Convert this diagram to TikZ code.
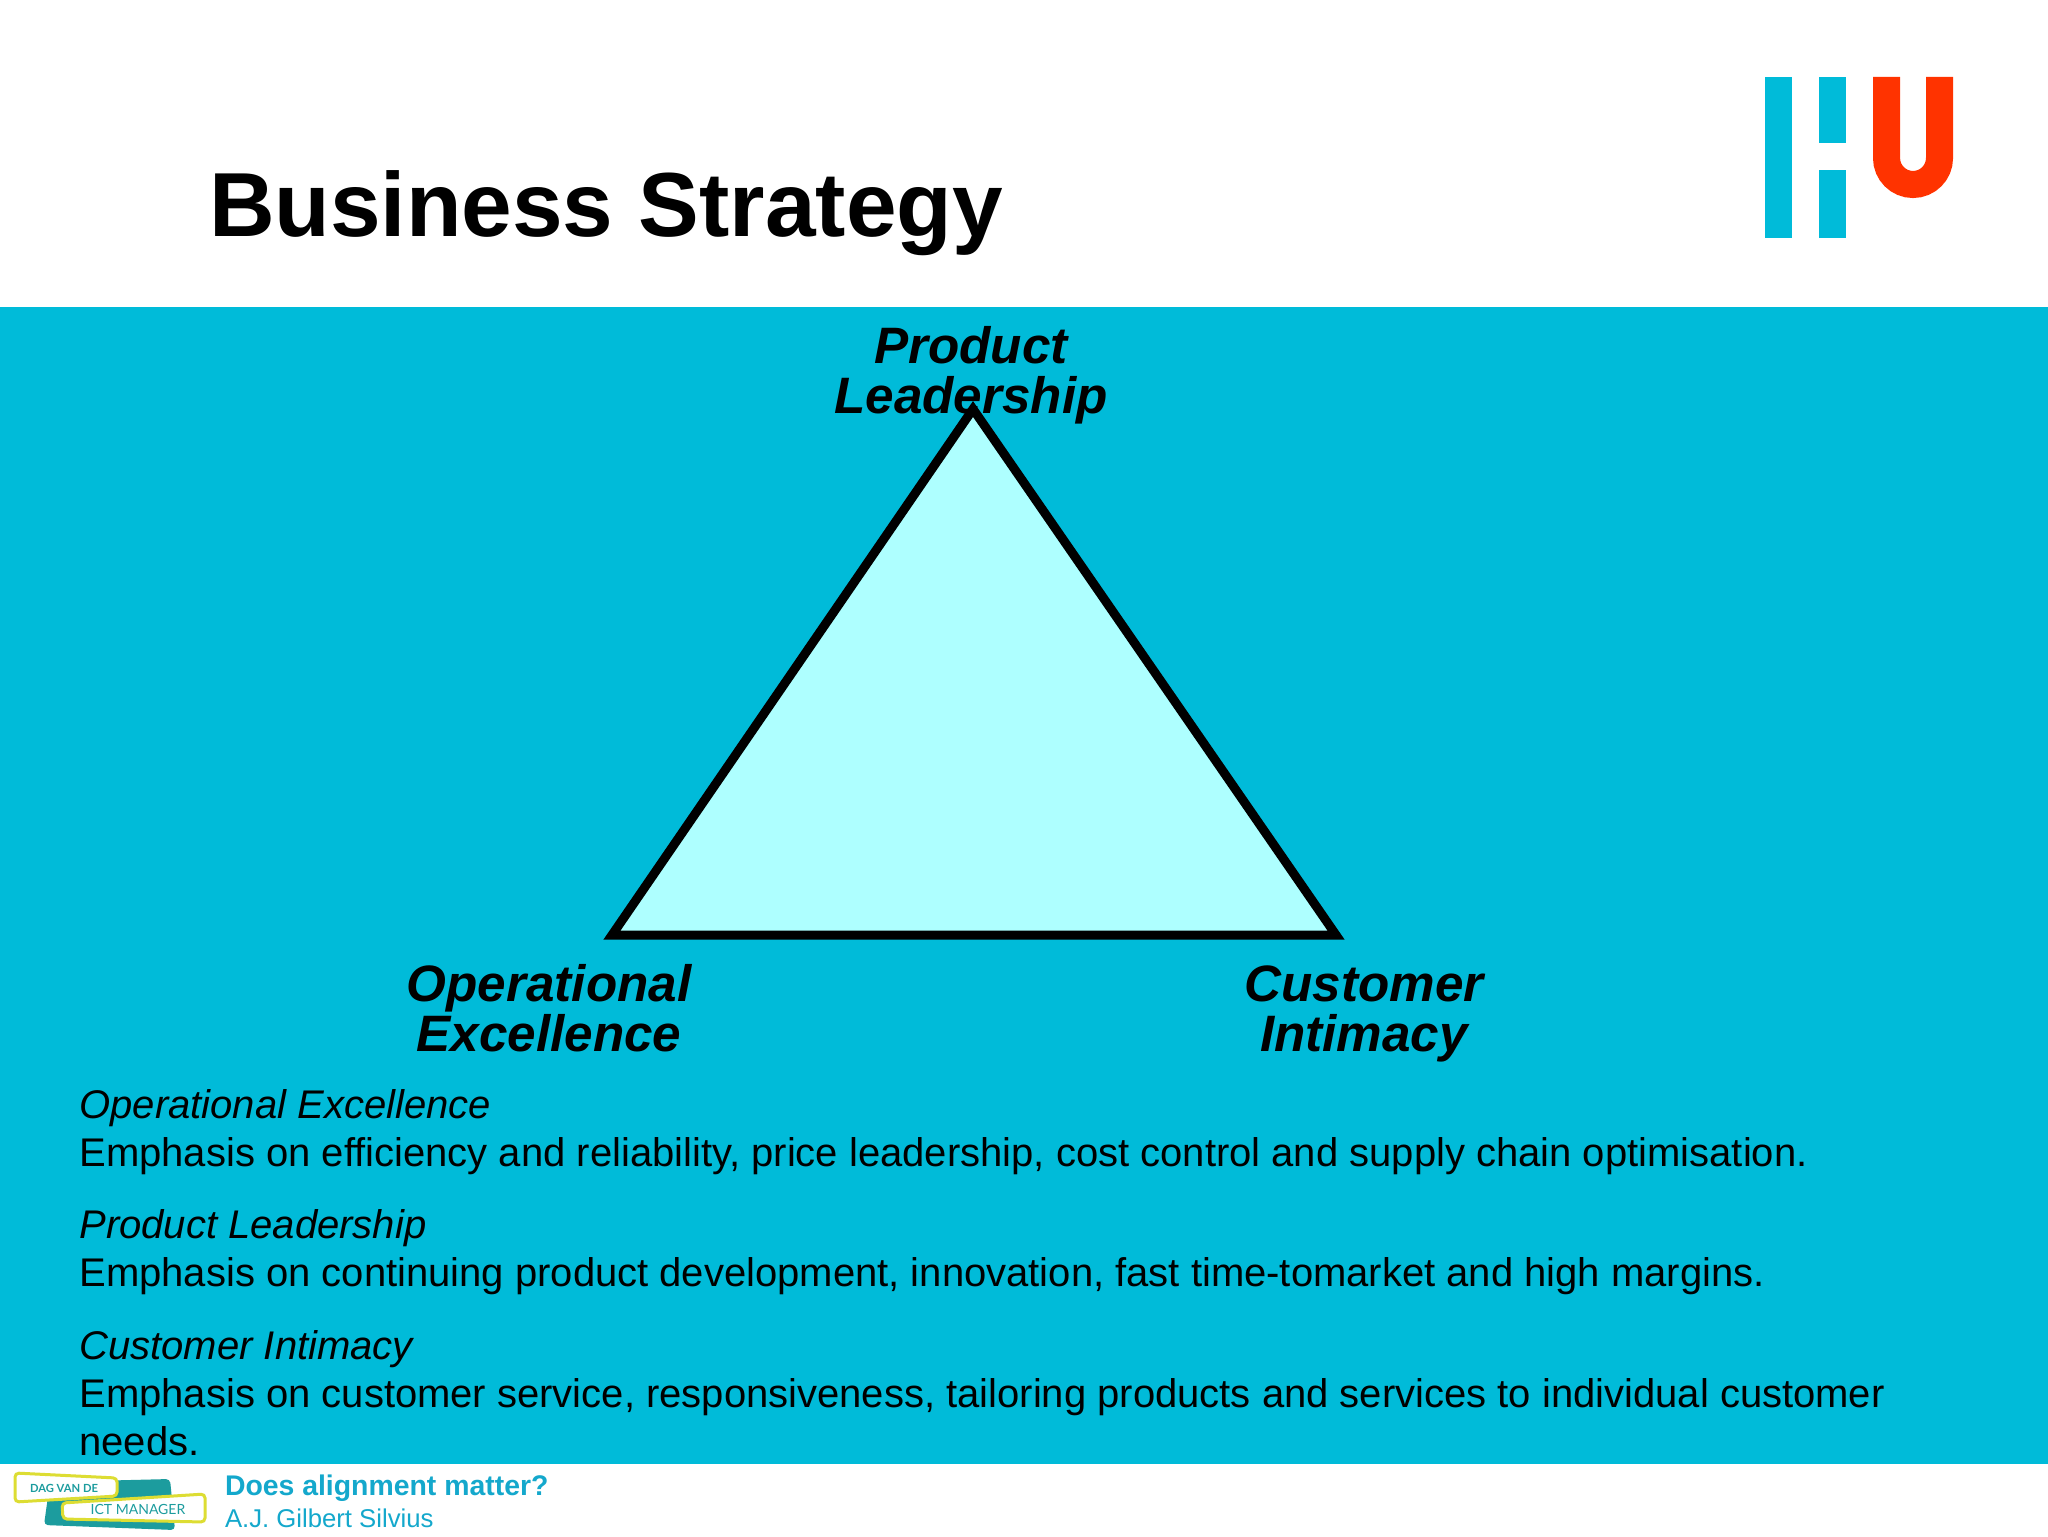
\documentclass[tikz,border=0pt]{standalone}
\usepackage{fontspec}
\setmainfont{Liberation Sans}
\newfontfamily\logofont{Lato}
\definecolor{band}{HTML}{00BBD9}
\definecolor{tri}{HTML}{AEFFFF}
\definecolor{hured}{HTML}{FF3300}
\definecolor{teal}{HTML}{1C9C9E}
\definecolor{logoyellow}{HTML}{DDDD33}
\definecolor{foot}{HTML}{14A8CC}
\tikzset{
  x=0.5pt,y=-0.5pt,
  every node/.style={inner sep=0pt,outer sep=0pt},
  corner/.style={font=\fontsize{25.6}{24.8}\selectfont\bfseries\itshape,align=center,text=black},
  body/.style={font=\fontsize{20}{24}\selectfont,align=left,anchor=north west,text=black},
  hubar/.style={fill=band,draw=none},
  plate/.style={draw=logoyellow,fill=white,line width=1.5pt,rounded corners=2pt},
  plabel/.style={font=\logofont\bfseries\fontsize{5.6}{7}\selectfont,text=teal},
}
\begin{document}
\begin{tikzpicture}
\useasboundingbox (0,0) rectangle (2048,1536);
\fill[white] (0,0) rectangle (2048,1536);
\fill[band] (0,307) rectangle (2048,1464);
% title
\node[anchor=base west,font=\fontsize{45.5}{50}\selectfont\bfseries] (title) at (209,236) {Business Strategy};
% HU logo
\fill[hubar] (1765,77) rectangle (1792,238);
\fill[hubar] (1819,77) rectangle (1846,143);
\fill[hubar] (1819,170) rectangle (1846,238);
\draw[hured,line width=13.5pt] (1886.5,77) -- (1886.5,158) arc[start angle=180,end angle=0,radius=26.5] -- (1939.5,77);
% triangle
\draw[black,line width=4.5pt,fill=tri,miter limit=10] (973,409) -- (1336,935) -- (612,935) -- cycle;
% corner labels
\node[corner] (pl) at (971,375) {Product\\Leadership};
\node[corner] (oe) at (549,1008) {Operational\\Excellence};
\node[corner] (ci) at (1364,1014) {Customer\\Intimacy};
% descriptions
\node[body] (d1) at (79.5,1089) {\textit{Operational Excellence}\\Emphasis on efficiency and reliability, price leadership, cost control and supply chain optimisation.};
\node[body] (d2) at (79.5,1209) {\textit{Product Leadership}\\Emphasis on continuing product development, innovation, fast time-tomarket and high margins.};
\node[body] (d3) at (79.5,1330) {\textit{Customer Intimacy}\\Emphasis on customer service, responsiveness, tailoring products and services to individual customer\\needs.};
% footer logo
\fill[teal,rounded corners=2pt] (50,1482) -- (170,1479) -- (175,1530) -- (44,1525) -- cycle;
\draw[plate] (15,1473) -- (117,1478) -- (117,1496) -- (15,1502) -- cycle;
\draw[plate] (62,1503) -- (205,1494) -- (205,1522) -- (63,1519) -- cycle;
\node[plabel] (dag) at (64,1488) {DAG VAN DE};
\node[plabel,font=\logofont\fontsize{7}{9}\selectfont] (ict) at (138,1509) {ICT MANAGER};
% footer text
\node[anchor=base west,font=\fontsize{14.2}{16}\selectfont\bfseries,text=foot] (f1) at (225,1495) {Does alignment matter?};
\node[anchor=base west,font=\fontsize{12.85}{14}\selectfont,text=foot] (f2) at (225,1527) {A.J. Gilbert Silvius};
\end{tikzpicture}
\end{document}
